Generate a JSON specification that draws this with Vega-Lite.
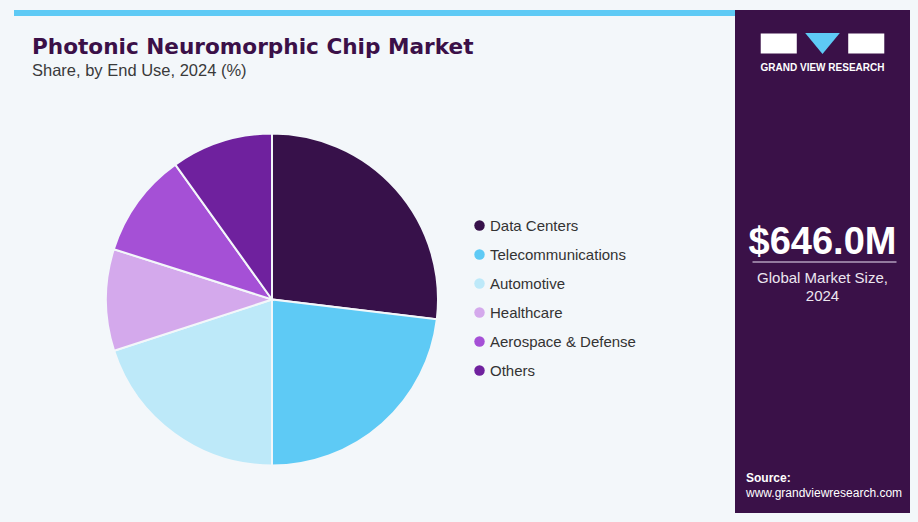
{
  "$schema": "https://vega.github.io/schema/vega-lite/v6.json",
  "background": "#f3f7fa",
  "padding": {"left": 14, "top": 10, "right": 8, "bottom": 9},
  "autosize": {"type": "pad"},
  "config": {"view": {"stroke": null}, "font": "Liberation Sans"},
  "spacing": 0,
  "resolve": {"scale": {"color": "independent", "x": "independent", "y": "independent", "theta": "independent"}, "legend": {"color": "independent"}},
  "hconcat": [
    {
      "spacing": 20,
      "vconcat": [
        {
          "width": 721,
          "height": 6,
          "data": {"values": [{}]},
          "mark": {"type": "rect", "color": "#5ecaf5"},
          "encoding": {}
        },
        {
          "width": 516,
          "height": 429,
          "title": {
            "text": "Photonic Neuromorphic Chip Market",
            "subtitle": "Share, by End Use, 2024 (%)",
            "anchor": "start",
            "dx": 18,
            "offset": 6,
            "font": "DejaVu Sans",
            "fontWeight": "bold",
            "fontSize": 21.6,
            "color": "#3b1048",
            "subtitleFont": "Liberation Sans",
            "subtitleFontSize": 16.5,
            "subtitleColor": "#3a3a3a",
            "subtitlePadding": 4
          },
          "data": {
            "values": [
              {"segment": "Data Centers", "share": 26.9, "rank": 1},
              {"segment": "Telecommunications", "share": 23.1, "rank": 2},
              {"segment": "Automotive", "share": 20.0, "rank": 3},
              {"segment": "Healthcare", "share": 9.9, "rank": 4},
              {"segment": "Aerospace & Defense", "share": 10.2, "rank": 5},
              {"segment": "Others", "share": 9.9, "rank": 6}
            ]
          },
          "mark": {"type": "arc", "radius": 166, "stroke": "#f3f7fa", "strokeWidth": 2},
          "encoding": {
            "theta": {"field": "share", "type": "quantitative", "stack": true},
            "order": {"field": "rank", "type": "quantitative"},
            "color": {
              "field": "segment",
              "type": "nominal",
              "sort": null,
              "scale": {
                "domain": ["Data Centers", "Telecommunications", "Automotive", "Healthcare", "Aerospace & Defense", "Others"],
                "range": ["#37114a", "#5ecaf5", "#bde9f9", "#d4a9ec", "#a550d6", "#6f219e"]
              },
              "legend": {
                "orient": "none",
                "legendX": 458,
                "legendY": 208,
                "title": null,
                "padding": 0,
                "symbolType": "circle",
                "symbolSize": 110,
                "symbolStrokeWidth": 0,
                "labelFontSize": 15,
                "labelFont": "Liberation Sans",
                "labelColor": "#333333",
                "labelOffset": 3,
                "labelLimit": 300,
                "rowPadding": 13
              }
            }
          }
        }
      ]
    },
    {
      "width": 175,
      "height": 503,
      "view": {"fill": "#3a1148", "stroke": null},
      "layer": [
        {
          "data": {"values": [{"part": "G"}, {"part": "R"}]},
          "mark": {"type": "point", "filled": true, "opacity": 1, "color": "white", "size": 1300, "shape": "M-1,-0.56H1V0.56H-1Z", "yOffset": -218},
          "encoding": {
            "x": {"field": "part", "type": "nominal", "axis": null, "scale": {"type": "point", "domain": ["G", "V", "R"], "padding": 1.06}}
          }
        },
        {
          "data": {"values": [{"part": "V"}]},
          "mark": {"type": "point", "filled": true, "opacity": 1, "color": "#5ecaf5", "size": 1200, "shape": "M-1,-0.6H1L0,0.6Z", "yOffset": -218},
          "encoding": {
            "x": {"field": "part", "type": "nominal", "axis": null, "scale": {"type": "point", "domain": ["G", "V", "R"], "padding": 1.06}}
          }
        },
        {
          "data": {"values": [{"t": "GRAND VIEW RESEARCH"}]},
          "mark": {"type": "text", "color": "white", "font": "Liberation Sans", "fontSize": 10, "fontWeight": "bold", "baseline": "alphabetic", "dy": -190.5},
          "encoding": {"text": {"field": "t", "type": "nominal"}}
        },
        {
          "data": {"values": [{"t": "$646.0M"}]},
          "mark": {"type": "text", "color": "white", "font": "Liberation Sans", "fontSize": 38, "fontWeight": "bold", "baseline": "alphabetic", "dy": -7.5},
          "encoding": {"text": {"field": "t", "type": "nominal"}}
        },
        {
          "data": {"values": [{}]},
          "mark": {"type": "tick", "orient": "horizontal", "size": 144, "thickness": 2, "color": "#b9a6c4", "yOffset": 0.5, "xOffset": 2},
          "encoding": {}
        },
        {
          "data": {"values": [{"t": "Global Market Size,\n2024"}]},
          "mark": {"type": "text", "color": "#ece6f0", "font": "Liberation Sans", "fontSize": 15, "baseline": "alphabetic", "lineBreak": "\n", "lineHeight": 18, "dy": 21.5},
          "encoding": {"text": {"field": "t", "type": "nominal"}}
        },
        {
          "data": {"values": [{"t": "Source:"}]},
          "mark": {"type": "text", "color": "white", "font": "Liberation Sans", "fontSize": 12, "fontWeight": "bold", "align": "left", "baseline": "alphabetic", "dx": -76.5, "dy": 220.5},
          "encoding": {"text": {"field": "t", "type": "nominal"}}
        },
        {
          "data": {"values": [{"t": "www.grandviewresearch.com"}]},
          "mark": {"type": "text", "color": "white", "font": "Liberation Sans", "fontSize": 12, "align": "left", "baseline": "alphabetic", "dx": -76.5, "dy": 235.5},
          "encoding": {"text": {"field": "t", "type": "nominal"}}
        }
      ]
    }
  ]
}
